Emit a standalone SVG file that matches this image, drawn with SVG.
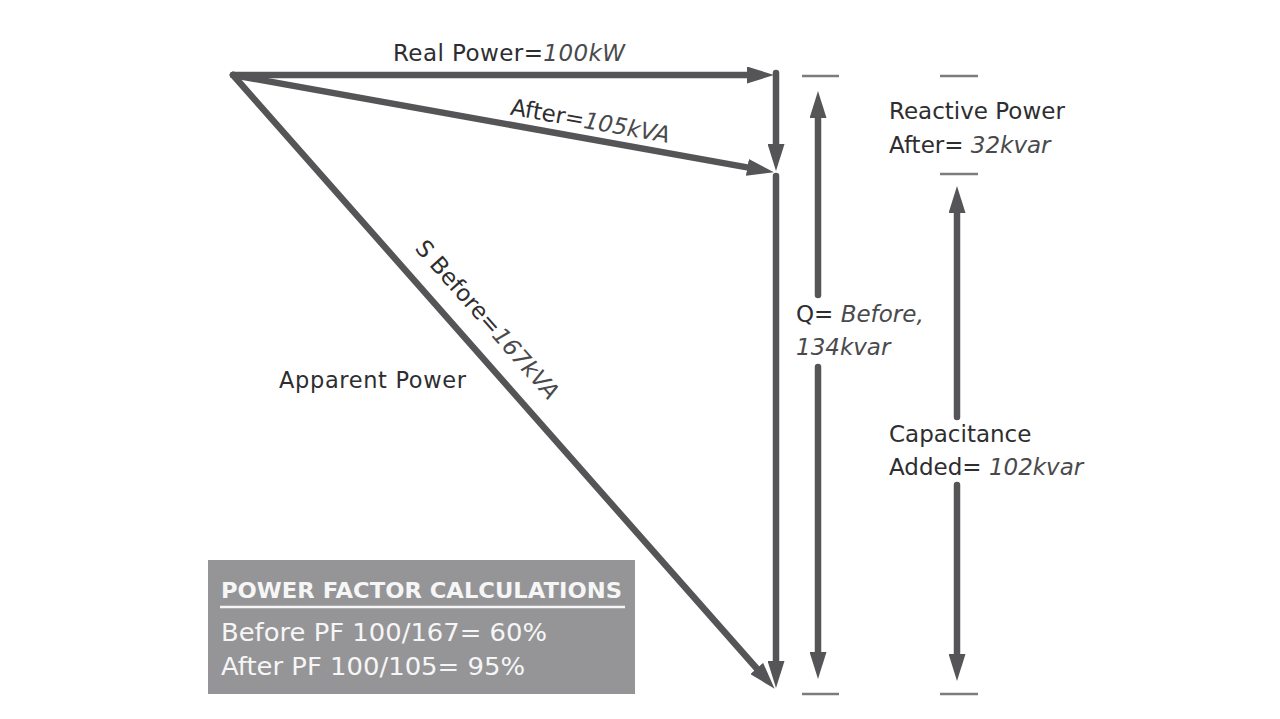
<svg xmlns="http://www.w3.org/2000/svg" width="1280" height="719" viewBox="0 0 1280 719">
<defs>
<style>
.ln{stroke:#555557;stroke-width:6.5;fill:none;stroke-linecap:round}
.ah{marker-end:url(#arr)}
.tk{stroke:#7c7c7e;stroke-width:2.5}
.t{font-family:"DejaVu Sans","Liberation Sans",sans-serif;font-size:23px;fill:#2e2e30}
.it{font-style:italic;fill:#4a4a4c}
.bx{font-family:"DejaVu Sans","Liberation Sans",sans-serif;fill:#f6f6f6}
</style>
<marker id="arr" viewBox="0 0 27 17" refX="4" refY="8.5" markerWidth="27" markerHeight="17" markerUnits="userSpaceOnUse" orient="auto">
<path d="M0,0 L27,8.5 L0,17 Z" fill="#555557"/>
</marker>
</defs>
<rect width="1280" height="719" fill="#ffffff"/>

<g id="connectors">
<line class="ln ah" x1="233" y1="75" x2="751" y2="75"/>
<line class="ln ah" x1="776" y1="73" x2="776" y2="148"/>
<line class="ln ah" x1="233" y1="75" x2="751.3" y2="168.1"/>
<line class="ln ah" x1="776" y1="176" x2="776" y2="665"/>
<line class="ln ah" x1="233" y1="75" x2="759.4" y2="671.5"/>
<line class="ln ah" x1="818" y1="295" x2="818" y2="114"/>
<line class="ln ah" x1="818" y1="367" x2="818" y2="656"/>
<line class="ln ah" x1="957" y1="417" x2="957" y2="209"/>
<line class="ln ah" x1="957" y1="485" x2="957" y2="658"/>
</g>

<g id="ticks">
<line class="tk" x1="802" y1="76" x2="839" y2="76"/>
<line class="tk" x1="802" y1="694" x2="839" y2="694"/>
<line class="tk" x1="940" y1="76" x2="978" y2="76"/>
<line class="tk" x1="940" y1="174" x2="978" y2="174"/>
<line class="tk" x1="940" y1="694" x2="978" y2="694"/>
</g>

<g id="real-power">
<text class="t" x="393" y="61" textLength="232">Real Power=<tspan class="it">100kW</tspan></text>
</g>

<g id="after-kva">
<text class="t" transform="translate(233,75) rotate(10.18)" x="279" y="-10">After=<tspan class="it">105kVA</tspan></text>
</g>

<g id="s-before">
<text class="t" transform="translate(233,75) rotate(48.6)" x="250" y="-21">S Before=<tspan class="it">167kVA</tspan></text>
</g>

<g id="apparent-power">
<text class="t" style="font-size:22.5px" x="279" y="388" textLength="187">Apparent Power</text>
</g>

<g id="q-before">
<text class="t" x="796" y="322">Q= <tspan class="it">Before,</tspan></text>
<text class="t it" x="796" y="355">134kvar</text>
</g>

<g id="reactive-after">
<text class="t" x="889" y="119">Reactive Power</text>
<text class="t" x="889" y="153">After= <tspan class="it">32kvar</tspan></text>
</g>

<g id="capacitance">
<text class="t" x="889" y="442">Capacitance</text>
<text class="t" x="889" y="475">Added= <tspan class="it">102kvar</tspan></text>
</g>

<g id="pf-box">
<rect x="208" y="560" width="427" height="134" fill="#959597"/>
<text class="bx" x="221" y="598" font-size="22" font-weight="bold" textLength="401" lengthAdjust="spacingAndGlyphs">POWER FACTOR CALCULATIONS</text>
<line x1="220" y1="607" x2="625" y2="607" stroke="#f6f6f6" stroke-width="2.5"/>
<text class="bx" x="221" y="641" font-size="24" textLength="326" lengthAdjust="spacingAndGlyphs">Before PF 100/167= 60%</text>
<text class="bx" x="221" y="675" font-size="24" textLength="304" lengthAdjust="spacingAndGlyphs">After PF 100/105= 95%</text>
</g>
</svg>
